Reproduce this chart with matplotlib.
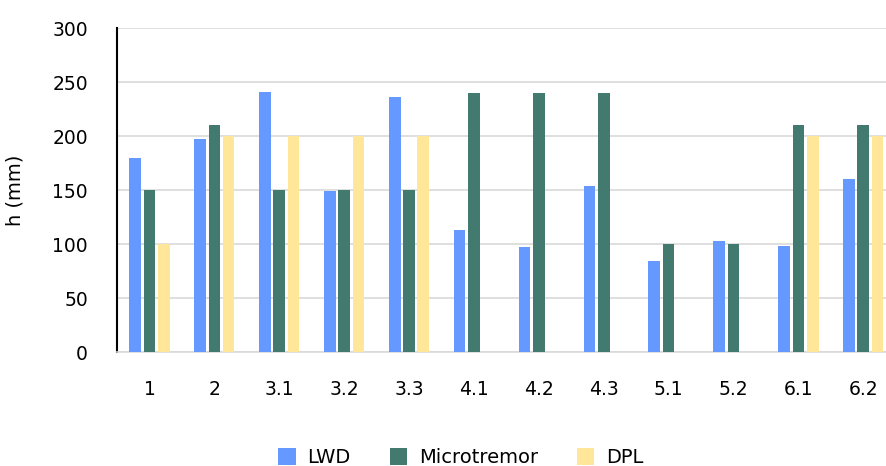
import matplotlib.pyplot as plt
import numpy as np

categories = ["1", "2", "3.1", "3.2", "3.3", "4.1", "4.2", "4.3", "5.1", "5.2", "6.1", "6.2"]
lwd = [180, 197, 241, 149, 236, 113, 97, 154, 84, 103, 98, 160]
microtremor = [150, 210, 150, 150, 150, 240, 240, 240, 100, 100, 210, 210]
dpl = [100, 200, 200, 200, 200, 0, 0, 0, 0, 0, 200, 200]

series = [("LWD", lwd, "#6699FF"),
          ("Microtremor", microtremor, "#437A70"),
          ("DPL", dpl, "#FFE699")]

plt.rcParams['font.family'] = ['DejaVu Sans']
fig = plt.figure(figsize=(8.86, 4.66), dpi=100)
ax = fig.add_axes([117 / 886, 1 - 352 / 466, (886 - 117) / 886, (352 - 28) / 466])

x = np.arange(len(categories))
w = 0.18
for i, (name, vals, col) in enumerate(series):
    ax.bar(x + (i - 1) * 0.22, vals, width=w, color=col, label=name, zorder=3)

ax.set_xlim(-0.5, 11.35)
ax.set_ylim(0, 300)
ax.set_yticks(range(0, 301, 50))
ax.set_xticks(x)
ax.set_xticklabels(categories)
ax.tick_params(axis='y', length=0, labelsize=13.5, pad=21)
ax.tick_params(axis='x', length=0, labelsize=13.5, pad=20)
ax.grid(axis='y', color='#d9d9d9', linewidth=1.2, zorder=0)
for s in ['top', 'right']:
    ax.spines[s].set_visible(False)
ax.spines['left'].set_color('black')
ax.spines['left'].set_linewidth(1.5)
ax.spines['bottom'].set_color('#d9d9d9')
ax.spines['bottom'].set_linewidth(1.2)
ax.set_ylabel("h (mm)", fontsize=14, labelpad=12)
ax.yaxis.set_label_coords(-92 / 769, 0.5)

fig.legend(loc='lower center', bbox_to_anchor=(0.52, -0.04), ncol=3, frameon=False,
           fontsize=14, handlelength=0.9, handleheight=0.9, columnspacing=2.0,
           handletextpad=0.6)

fig.savefig("out.png", dpi=100)
